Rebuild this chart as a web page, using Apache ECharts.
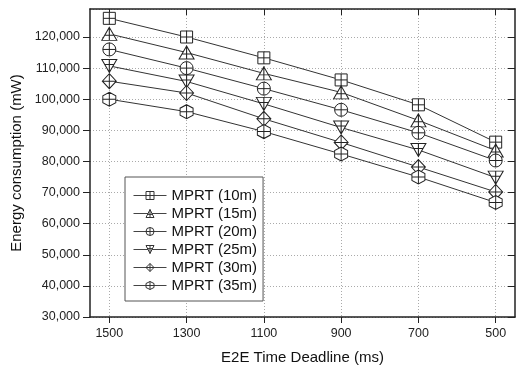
<!DOCTYPE html>
<html>
<head>
<meta charset="utf-8">
<script src="https://cdn.jsdelivr.net/npm/echarts@6/dist/echarts.min.js"></script>
<style>
  html, body { margin: 0; padding: 0; background: #fff; }
  #chart { width: 517px; height: 370px; }
</style>
</head>
<body>
<div id="chart"></div>
<script>
// E2E deadline (ms) on x, energy (mW) on y
const deadlines = [1500, 1300, 1100, 900, 700, 500];
const mprt10 = [126000, 120000, 113300, 106200, 98200, 86200];
const mprt15 = [121000, 115000, 108300, 102200, 93200, 83500];
const mprt20 = [116000, 110000, 103400, 96600, 89200, 80300];
const mprt25 = [110700, 105700, 98500, 90900, 83700, 74800];
const mprt30 = [105800, 102000, 93700, 86100, 78200, 70200];
const mprt35 = [100000, 96000, 89600, 82400, 75000, 66800];
const seriesNames = ["MPRT (10m)", "MPRT (15m)", "MPRT (20m)", "MPRT (25m)", "MPRT (30m)", "MPRT (35m)"];

// origin-style open markers with a cross inside
const symSquare = "path://M0,0 L20,0 L20,20 L0,20 Z M10,0 L10,20 M0,10 L20,10";
const symTri = "path://M10,0 L20,18 L0,18 Z M10,0 L10,18 M3.9,11 L16.1,11";
const symCircle = "path://M0,10 A10,10 0 1,1 20,10 A10,10 0 1,1 0,10 Z M10,0 L10,20 M0,10 L20,10";
const symTriDown = "path://M0,0 L20,0 L10,18 Z M10,0 L10,18 M3.9,7 L16.1,7";
const symDiamond = "path://M10,0 L20,10 L10,20 L0,10 Z M10,0 L10,20 M0,10 L20,10";
const symHex = "path://M10,0 L18.66,5 L18.66,15 L10,20 L1.34,15 L1.34,5 Z M10,0 L10,20 M1.34,10 L18.66,10";

const font = "'Liberation Sans', Arial, sans-serif";

function makeSeries(name, values, symbol, size) {
  return {
    name: name,
    type: "line",
    data: deadlines.map((d, i) => [d, values[i]]),
    symbol: symbol,
    symbolSize: size,
    showAllSymbol: true,
    lineStyle: { color: "#333", width: 1 },
    itemStyle: { color: "#fff", borderColor: "#222", borderWidth: 1 },
    emphasis: { disabled: true },
    z: 3,
  };
}

let myChart = echarts.init(document.getElementById("chart"));

var options = {
  backgroundColor: "#fff",
  animation: false,
  textStyle: { fontFamily: font },
  grid: { left: 90, right: 2, top: 9, bottom: 48 },
  legend: {
    orient: "vertical",
    left: 125,
    top: 177,
    padding: [11, 6, 8, 8],
    itemGap: 3,
    itemWidth: 33,
    itemHeight: 10,
    borderColor: "#555",
    borderWidth: 1,
    backgroundColor: "#fff",
    data: seriesNames,
    itemStyle: { color: "#fff", borderColor: "#333", borderWidth: 1 },
    lineStyle: { color: "#444", width: 1 },
    textStyle: { fontSize: 15, color: "#111", fontFamily: font },
  },
  xAxis: [
    {
      type: "value",
      inverse: true,
      min: 450,
      max: 1550,
      name: "E2E Time Deadline (ms)",
      nameLocation: "middle",
      nameGap: 33,
      nameTextStyle: { fontSize: 15, color: "#111", fontFamily: font },
      axisLine: { lineStyle: { color: "#222", width: 1.5 } },
      axisTick: { show: true, length: 6, lineStyle: { color: "#222" }, customValues: deadlines },
      axisLabel: {
        fontSize: 12.5,
        color: "#222",
        margin: 10,
        customValues: deadlines,
        formatter: (v) => String(v),
      },
      splitLine: { show: true, lineStyle: { color: "#aaa", type: [1, 2], width: 1 } },
    },
    {
      type: "value",
      position: "top",
      inverse: true,
      min: 450,
      max: 1550,
      axisLine: { show: true, lineStyle: { color: "#222", width: 1.5 } },
      axisTick: { show: true, inside: true, length: 6, lineStyle: { color: "#222" }, customValues: deadlines },
      axisLabel: { show: false, customValues: deadlines },
      splitLine: { show: false },
    },
  ],
  yAxis: [
    {
      type: "value",
      min: 30000,
      max: 129000,
      interval: 10000,
      name: "Energy consumption (mW)",
      nameLocation: "middle",
      nameGap: 61,
      nameTextStyle: { fontSize: 15, color: "#111", fontFamily: font },
      axisLine: { show: true, lineStyle: { color: "#222", width: 1.5 } },
      axisTick: { show: true, length: 7, lineStyle: { color: "#222" } },
      axisLabel: {
        fontSize: 12.5,
        color: "#222",
        margin: 10,
        showMaxLabel: false,
        formatter: (v) => v.toLocaleString("en-US"),
      },
      splitLine: { show: true, lineStyle: { color: "#aaa", type: [1, 2], width: 1 } },
    },
    {
      type: "value",
      position: "right",
      min: 30000,
      max: 129000,
      interval: 10000,
      axisLine: { show: true, lineStyle: { color: "#222", width: 1.5 } },
      axisTick: { show: true, inside: true, length: 7, lineStyle: { color: "#222" } },
      axisLabel: { show: false },
      splitLine: { show: false },
    },
  ],
  series: [
    makeSeries(seriesNames[0], mprt10, symSquare, [12, 12]),
    makeSeries(seriesNames[1], mprt15, symTri, [15, 13]),
    makeSeries(seriesNames[2], mprt20, symCircle, [13, 13]),
    makeSeries(seriesNames[3], mprt25, symTriDown, [15, 13]),
    makeSeries(seriesNames[4], mprt30, symDiamond, [14, 15]),
    makeSeries(seriesNames[5], mprt35, symHex, [13, 14]),
  ],
};

myChart.setOption(options);
window.addEventListener("resize", function () {
  myChart.resize();
});
</script>
</body>
</html>
